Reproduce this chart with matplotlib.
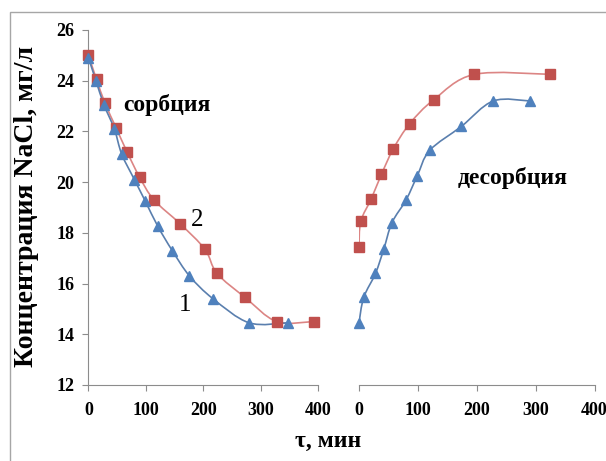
import numpy as np
import matplotlib
matplotlib.use("Agg")
import matplotlib.pyplot as plt
from matplotlib.path import Path
from matplotlib.patches import PathPatch, Rectangle

# sorption branch (left panel)
sorb_t1 = [0, 13, 27, 45, 58, 80, 99, 121, 146, 176, 217, 280, 347]
sorb_c1 = [24.9, 24.0, 23.05, 22.1, 21.1, 20.1, 19.25, 18.25, 17.3, 16.3, 15.4, 14.45, 14.45]
sorb_t2 = [0, 14, 29, 48, 67, 89, 114, 160, 203, 224, 273, 328, 393]
sorb_c2 = [25.0, 24.05, 23.1, 22.15, 21.2, 20.2, 19.3, 18.35, 17.35, 16.4, 15.45, 14.5, 14.5]

# desorption branch (right panel)
desorb_t1 = [0, 8, 28, 42, 56, 80, 99, 120, 174, 228, 290]
desorb_c1 = [14.45, 15.45, 16.4, 17.35, 18.4, 19.3, 20.25, 21.25, 22.2, 23.2, 23.2]
desorb_t2 = [0, 3, 21, 38, 58, 86, 127, 196, 325]
desorb_c2 = [17.45, 18.45, 19.35, 20.3, 21.3, 22.3, 23.25, 24.25, 24.25]

x_ticks = [0, 100, 200, 300, 400]
y_ticks = [12, 14, 16, 18, 20, 22, 24, 26]

RED = "#C0504D"
RED_LINE = "#DC8584"
BLUE = "#4F81BD"
BLUE_LINE = "#5A7FAE"

plt.rcParams['font.family'] = ['Liberation Serif', 'DejaVu Serif']


def smooth_line(ax, xs, ys, color):
    # Excel-like smoothed line: cubic bezier through the points (Catmull-Rom)
    p = np.column_stack([xs, ys]).astype(float)
    n = len(p)
    verts = [p[0]]
    codes = [Path.MOVETO]
    for i in range(n - 1):
        p0 = p[i - 1] if i > 0 else p[i]
        p3 = p[i + 2] if i + 2 < n else p[i + 1]
        c1 = p[i] + (p[i + 1] - p0) / 6.0
        c2 = p[i + 1] - (p3 - p[i]) / 6.0
        verts += [c1, c2, p[i + 1]]
        codes += [Path.CURVE4] * 3
    ax.add_patch(PathPatch(Path(verts, codes), fill=False, edgecolor=color,
                           lw=1.2, zorder=2))


def style_axis(ax, show_y):
    for s in ["top", "right"]:
        ax.spines[s].set_visible(False)
    ax.spines["bottom"].set_color("#8C8C8C")
    ax.spines["left"].set_color("#8C8C8C")
    ax.set_xlim(0, 400)
    ax.set_ylim(12, 26)
    ax.set_xticks(x_ticks)
    ax.tick_params(axis="x", direction="out", length=4, color="#8C8C8C",
                   labelsize=13, pad=8)
    for lab in ax.get_xticklabels():
        lab.set_fontweight("bold")
    if show_y:
        ax.set_yticks(y_ticks)
        ax.tick_params(axis="y", direction="out", length=4, color="#8C8C8C",
                       labelsize=13, pad=6)
        for lab in ax.get_yticklabels():
            lab.set_fontweight("bold")
    else:
        ax.spines["left"].set_visible(False)
        ax.set_yticks([])
    ax.patch.set_alpha(0)


fig = plt.figure(figsize=(6.06, 4.61), dpi=100)

# outer frame of the chart area
fig.patches.append(Rectangle((10 / 606, -0.1), 1.2, 0.1 + (461 - 12) / 461,
                             transform=fig.transFigure, fill=False,
                             edgecolor="#A6A6A6", lw=1.0))

ax1 = fig.add_axes([0.146, 0.165, 0.3787, 0.770])
ax2 = fig.add_axes([0.5924, 0.165, 0.3888, 0.770])

smooth_line(ax1, sorb_t2, sorb_c2, RED_LINE)
smooth_line(ax1, sorb_t1, sorb_c1, BLUE_LINE)
ax1.plot(sorb_t2, sorb_c2, ls="none", marker="s", ms=6.5, color=RED, zorder=3, clip_on=False)
ax1.plot(sorb_t1, sorb_c1, ls="none", marker="^", ms=7.5, color=BLUE, zorder=3, clip_on=False)

smooth_line(ax2, desorb_t2, desorb_c2, RED_LINE)
smooth_line(ax2, desorb_t1, desorb_c1, BLUE_LINE)
ax2.plot(desorb_t2, desorb_c2, ls="none", marker="s", ms=6.5, color=RED, zorder=3, clip_on=False)
ax2.plot(desorb_t1, desorb_c1, ls="none", marker="^", ms=7.5, color=BLUE, zorder=3, clip_on=False)

style_axis(ax1, True)
style_axis(ax2, False)

ax1.text(137, 23.05, "сорбция", fontsize=17, fontweight="bold", ha="center", va="center")
ax1.text(190, 18.5, "2", fontsize=18, ha="center", va="center")
ax1.text(169, 15.15, "1", fontsize=18, ha="center", va="center")
ax2.text(260, 20.15, "десорбция", fontsize=17, fontweight="bold", ha="center", va="center")

fig.text(27 / 606, 1 - 206 / 461, "Концентрация NaCl, мг/л", rotation=90,
         fontsize=20, fontweight="bold", ha="center", va="center")
fig.text(328 / 606, 1 - 441 / 461, "τ, мин", fontsize=17, fontweight="bold",
         ha="center", va="center")

fig.savefig("out.png", dpi=100)
